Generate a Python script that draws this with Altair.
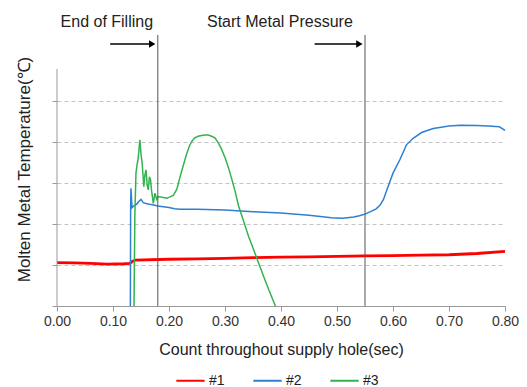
import altair as alt
import pandas as pd

# ---- data ----
series_names = ["#1", "#2", "#3"]
series_colors = ["#ff0000", "#2f7fd3", "#33b34f"]

x1 = [0.0, 0.03, 0.06, 0.09, 0.12, 0.13, 0.135, 0.14, 0.2, 0.25, 0.3, 0.35, 0.4,
      0.45, 0.5, 0.55, 0.6, 0.65, 0.7, 0.75, 0.8]
y1 = [1.06, 1.05, 1.04, 1.02, 1.03, 1.04, 1.09, 1.12, 1.14, 1.15, 1.16, 1.18, 1.19,
      1.2, 1.21, 1.22, 1.23, 1.24, 1.25, 1.28, 1.33]

x2 = [0.131, 0.1315, 0.132, 0.134, 0.138, 0.142, 0.146, 0.15, 0.154, 0.159, 0.165,
      0.171, 0.18, 0.19, 0.2, 0.21, 0.22, 0.25, 0.3, 0.35, 0.4, 0.45, 0.49, 0.51,
      0.53, 0.54, 0.55, 0.56, 0.57, 0.577, 0.583, 0.589, 0.6, 0.612, 0.624, 0.636,
      0.651, 0.672, 0.7, 0.72, 0.75, 0.77, 0.79, 0.8]
y2 = [0.0, 2.4, 2.87, 2.4, 2.45, 2.48, 2.55, 2.6, 2.52, 2.5, 2.48,
      2.47, 2.44, 2.42, 2.4, 2.37, 2.36, 2.36, 2.34, 2.3, 2.27, 2.21, 2.15, 2.14,
      2.17, 2.2, 2.24, 2.3, 2.37, 2.46, 2.6, 2.83, 3.24, 3.56, 3.93, 4.09,
      4.23, 4.33, 4.39, 4.41, 4.4, 4.39, 4.37, 4.28]

x3 = [0.1375, 0.139, 0.141, 0.143, 0.145, 0.148, 0.15, 0.152, 0.155, 0.157, 0.159,
      0.161, 0.163, 0.165, 0.167, 0.169, 0.172, 0.175, 0.178, 0.181, 0.188, 0.196,
      0.202, 0.208, 0.214, 0.22, 0.226, 0.232, 0.237, 0.241, 0.246, 0.252, 0.258,
      0.264, 0.27, 0.276, 0.282, 0.288, 0.294, 0.3, 0.306, 0.312, 0.318, 0.324,
      0.333, 0.342, 0.351, 0.36, 0.369, 0.378, 0.384, 0.39]
y3 = [0.0, 2.2, 3.24, 3.45, 3.6, 4.05, 3.7, 3.5, 2.91, 3.2, 3.32,
      2.95, 2.83, 3.15, 3.08, 2.8, 2.5, 2.75, 2.6, 2.67, 2.65, 2.63,
      2.66, 2.7, 2.85, 3.16, 3.45, 3.73, 3.92, 4.02, 4.1, 4.14, 4.16,
      4.17, 4.17, 4.14, 4.1, 3.98, 3.82, 3.62, 3.38, 3.1, 2.8, 2.45,
      2.08, 1.7, 1.38, 1.05, 0.72, 0.4, 0.2, 0.0]

x_ticks = [0.0, 0.1, 0.2, 0.3, 0.4, 0.5, 0.6, 0.7, 0.8]
y_ticks = [0, 1, 2, 3, 4, 5]

event_x = [0.18, 0.55]
event_labels = ["End of Filling", "Start Metal Pressure"]
label_x = [0.089, 0.398]
arrow_start = [0.095, 0.46]
arrow_end = [0.168, 0.537]
arrow_head = [0.170, 0.540]

Y_MAX = 7.34
FONT = "Liberation Sans"

rows = []
for name, xs, ys in zip(series_names, [x1, x2, x3], [y1, y2, y3]):
    for a, b in zip(xs, ys):
        rows.append({"t": a, "v": b, "s": name})
df = pd.DataFrame(rows)

xscale = alt.Scale(domain=[0, 0.8], nice=False, zero=False)
yscale = alt.Scale(domain=[0, Y_MAX], nice=False)

color = alt.Color(
    "s:N",
    scale=alt.Scale(domain=series_names, range=series_colors),
    legend=alt.Legend(
        title=None, orient="none", legendX=118, legendY=360, direction="horizontal",
        symbolType="stroke", symbolSize=800, symbolStrokeWidth=2,
        labelFontSize=14, labelFont=FONT, labelColor="#222", labelOffset=3,
        columnPadding=24, padding=0,
    ),
)

x_enc = alt.X(
    "t:Q", scale=xscale,
    axis=alt.Axis(values=x_ticks, format=".2f", title="Count throughout supply hole(sec)",
                  grid=False, labelFontSize=14, titleFontSize=16, labelFont=FONT,
                  titleFont=FONT, titleFontWeight="normal", labelColor="#333",
                  titleColor="#222", domainColor="#999", tickColor="#999",
                  tickSize=5, labelPadding=3, titlePadding=13, labelFlush=False),
)
y_enc = alt.Y(
    "v:Q", scale=yscale,
    axis=alt.Axis(values=y_ticks, labels=False, domain=False, grid=True,
                  gridDash=[4, 3], gridColor="#c4c4c4", tickColor="#999", tickSize=5,
                  title="Molten Metal Temperature(℃)", titleFontSize=17, titleFont=FONT,
                  titleFontWeight="normal", titleColor="#222", titlePadding=18,
                  titleY=164),
)

base = alt.Chart(df)
lines = []
for name, sw in zip(series_names, [2.8, 1.5, 1.5]):
    lines.append(
        base.transform_filter(alt.datum.s == name)
        .mark_line(strokeWidth=sw, interpolate="linear")
        .encode(x=x_enc, y=y_enc, color=color, order=alt.Order("t:Q"))
    )

# y-axis line (shorter than the plot area)
yaxis_df = pd.DataFrame({"t": [0.0], "v": [0.0], "hi": [5.78]})
yaxis_line = alt.Chart(yaxis_df).mark_rule(color="#999", strokeWidth=1).encode(
    x=alt.X("t:Q", scale=xscale),
    y=alt.Y("v:Q", scale=yscale),
    y2="hi:Q",
)

ev_df = pd.DataFrame({"t": event_x, "v": [0.0, 0.0], "hi": [6.61, 6.61]})
ev_rules = alt.Chart(ev_df).mark_rule(color="#555", strokeWidth=1).encode(
    x=alt.X("t:Q", scale=xscale),
    y=alt.Y("v:Q", scale=yscale),
    y2="hi:Q",
)

arr_df = pd.DataFrame({"t": arrow_start, "b": arrow_end, "h": arrow_head,
                       "v": [6.39, 6.39]})
arr_lines = alt.Chart(arr_df).mark_rule(color="#000", strokeWidth=1.5).encode(
    x=alt.X("t:Q", scale=xscale),
    x2="b:Q",
    y=alt.Y("v:Q", scale=yscale),
)
arr_heads = alt.Chart(arr_df).mark_point(
    shape="triangle-right", filled=True, color="#000", size=55, opacity=1
).encode(
    x=alt.X("h:Q", scale=xscale),
    y=alt.Y("v:Q", scale=yscale),
)

txt_df = pd.DataFrame({"t": label_x, "v": [6.93, 6.93], "label": event_labels})
texts = alt.Chart(txt_df).mark_text(
    fontSize=16, font=FONT, color="#222", align="center", baseline="middle"
).encode(
    x=alt.X("t:Q", scale=xscale),
    y=alt.Y("v:Q", scale=yscale),
    text="label:N",
)

chart = alt.layer(
    *lines, yaxis_line, ev_rules, arr_lines, arr_heads, texts
).properties(
    width=448, height=301,
    autosize=alt.AutoSizeParams(type="none"),
    padding={"left": 57, "top": 5, "right": 22, "bottom": 81},
    background="white",
).configure_view(stroke=None)

chart.save("out.html", embed_options={"renderer": "svg", "actions": False})
